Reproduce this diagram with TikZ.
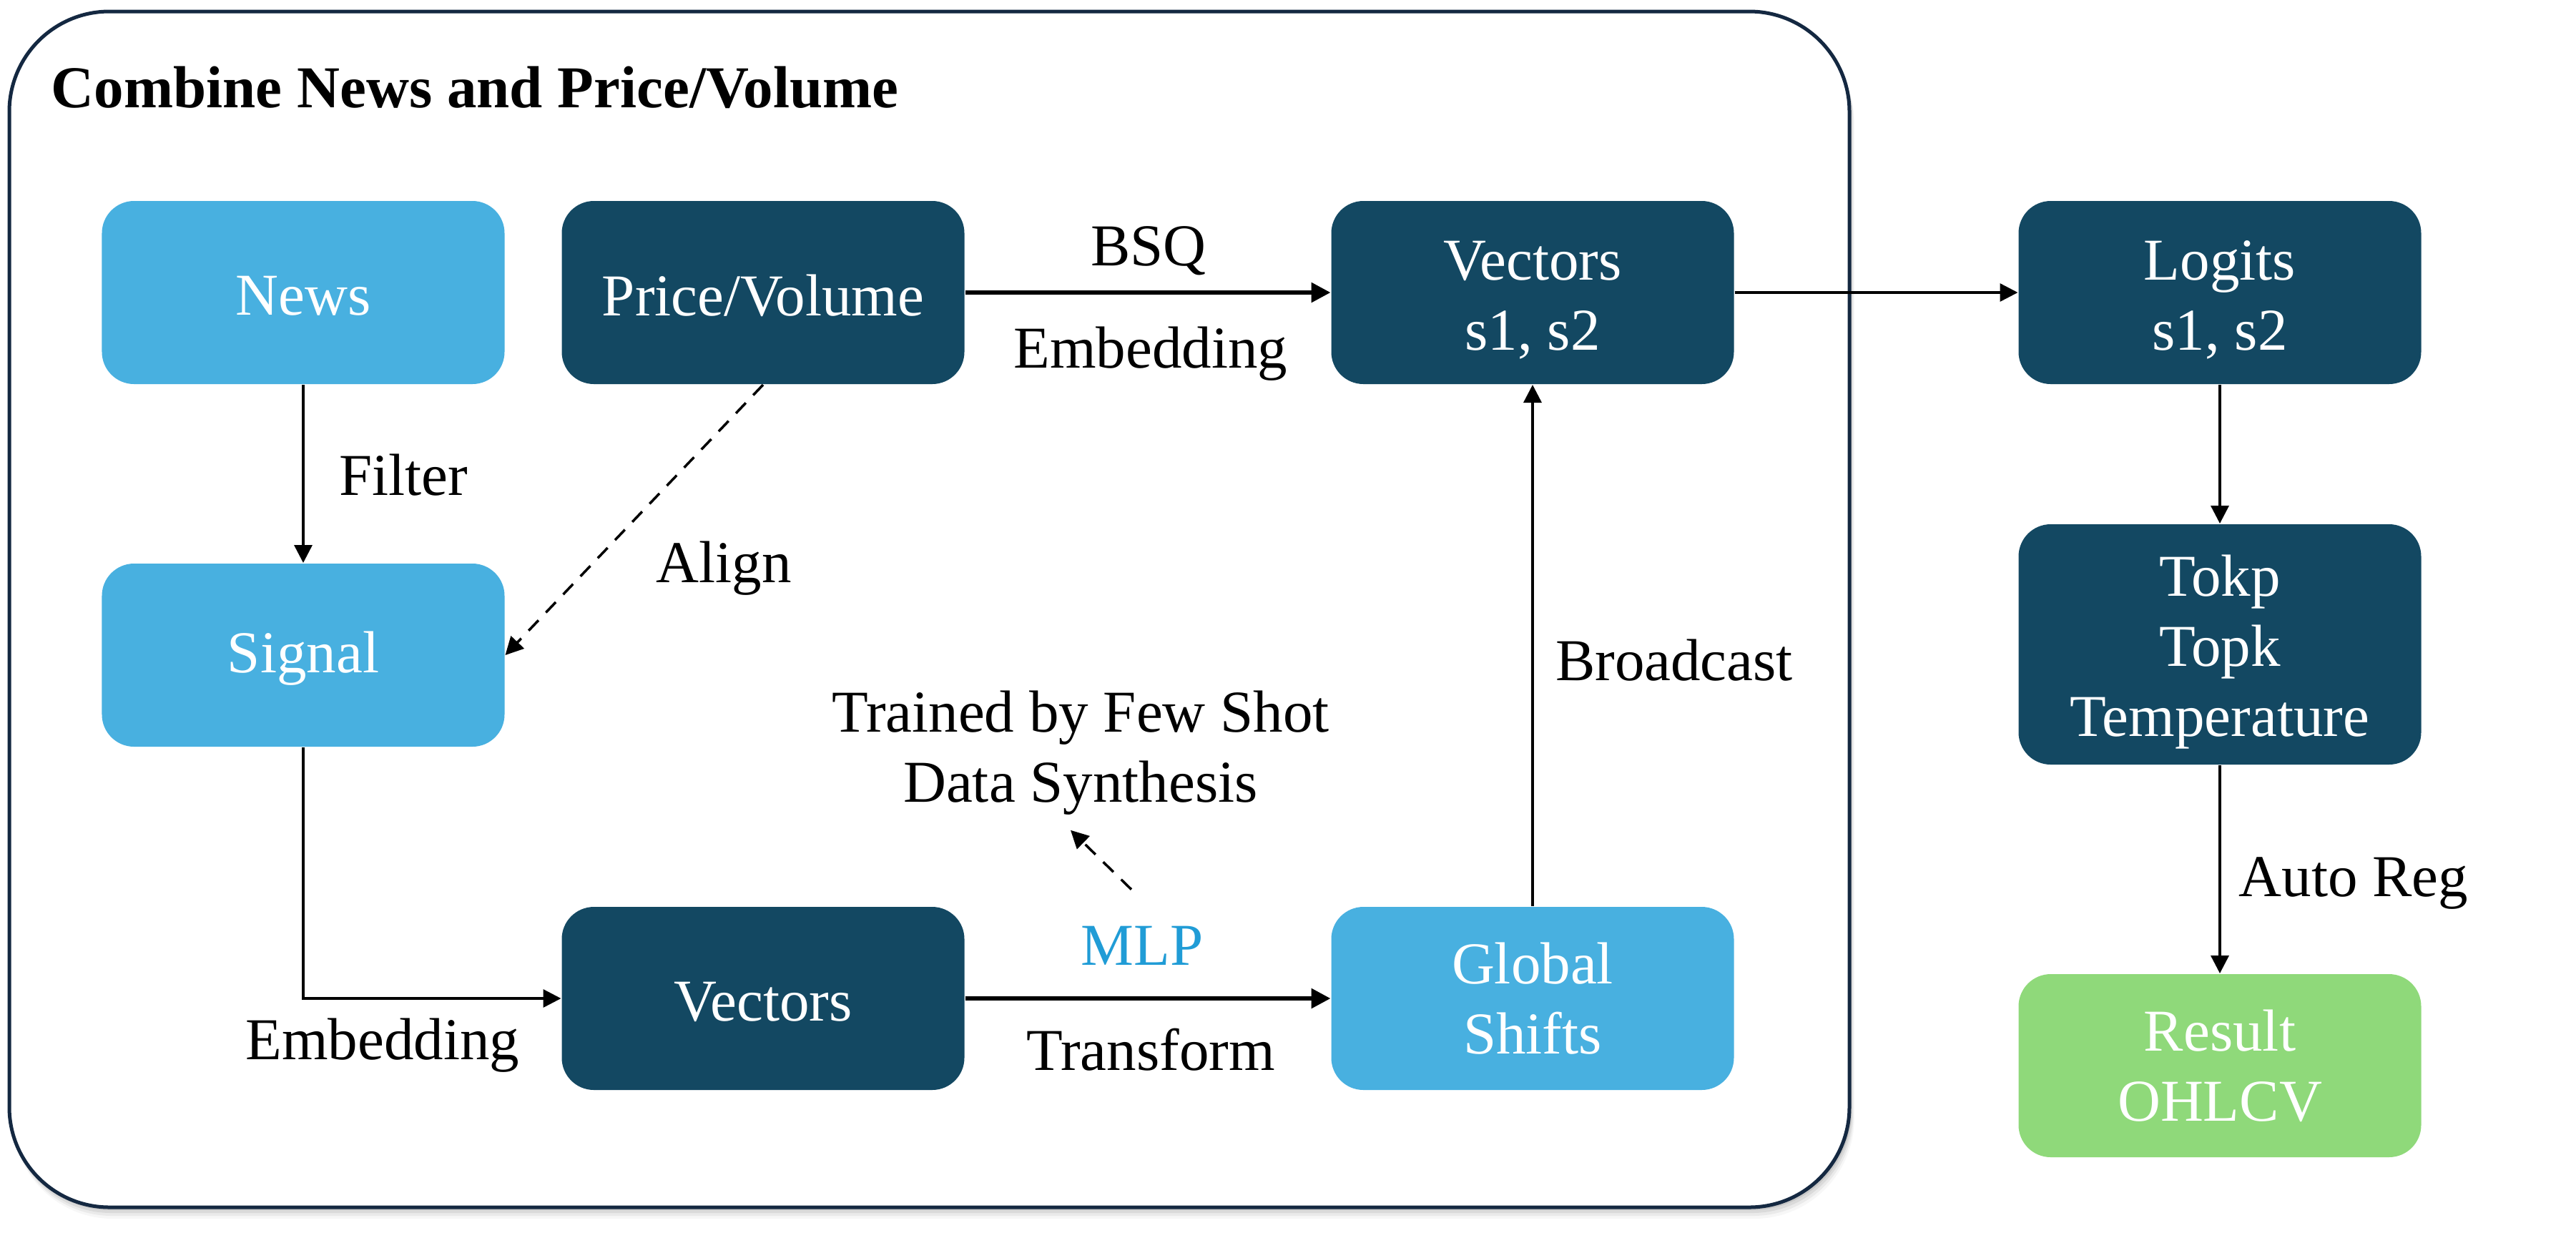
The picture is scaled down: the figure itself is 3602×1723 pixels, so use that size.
\documentclass[tikz,border=0pt]{standalone}
\usepackage{fontspec}
\setmainfont{Liberation Serif}
\usetikzlibrary{arrows.meta}
\definecolor{dk}{HTML}{134862}
\definecolor{lb}{HTML}{48B0E0}
\definecolor{gr}{HTML}{8FD97A}
\definecolor{mlpc}{HTML}{209CD6}
\definecolor{frm}{HTML}{142841}
\newcommand\boxnode[6]{%
  \node[box, fill=#2, #5] (#1) at (#3) {};
  \node[boxtext] (#1-t) at ([yshift=#6]#1.center) {#4};}
\begin{document}
\begin{tikzpicture}[x=0.2pt,y=-0.2pt,
  box/.style={rounded corners=9pt, minimum width=112.6pt, minimum height=51.2pt, inner sep=0pt},
  boxtext/.style={inner sep=0pt, text=white, align=center, font=\fontsize{16.6}{19.6}\selectfont},
  lbl/.style={font=\fontsize{16.6}{19.6}\selectfont, inner sep=0pt, align=center},
  conn/.style={line width=0.7pt, -{Triangle[length=5pt,width=5pt]}},
  thickconn/.style={line width=1.2pt, -{Triangle[length=5.4pt,width=5.4pt]}},
  dashconn/.style={line width=0.7pt, dash pattern=on 4pt off 3pt, -{Triangle[length=5pt,width=5pt]}}]
\useasboundingbox (0,0) rectangle (3602,1723);
% shadow of the frame
\foreach \d/\o in {4/0.09,8/0.07,12/0.05,16/0.03}{
  \fill[black, opacity=\o, rounded corners=28pt] (13+\d*0.3,16+\d) rectangle (2588+\d*0.3,1688+\d);
}
\draw[frm, line width=1pt, fill=white, rounded corners=28pt] (13,16) rectangle (2586,1688);
\node[font=\fontsize{16.6}{19.6}\selectfont\bfseries, anchor=base west, inner sep=0pt] (title) at (71,150) {Combine News and Price/Volume};

\boxnode{news}{lb}{424,409}{News}{}{-0.9pt}
\boxnode{pv}{dk}{1067,409}{Price/Volume}{}{-0.9pt}
\boxnode{vs}{dk}{2143,409}{Vectors\\s1, s2}{}{-2.2pt}
\boxnode{logits}{dk}{3104,409}{Logits\\s1, s2}{}{-2pt}
\boxnode{signal}{lb}{424,916}{Signal}{}{-0.9pt}
\boxnode{vec}{dk}{1067,1396}{Vectors}{}{-0.9pt}
\boxnode{gs}{lb}{2143,1396}{Global\\Shifts}{}{0pt}
\boxnode{tok}{dk}{3104,901}{Tokp\\Topk\\Temperature}{minimum height=67.2pt}{-2.2pt}
\boxnode{res}{gr}{3104,1490}{Result\\OHLCV}{}{0pt}

\node[lbl, anchor=base] (bsq) at (1606,371) {BSQ};
\node[lbl, anchor=base] (emb1) at (1609,514) {Embedding};
\node[lbl, anchor=base west] (filter) at (473,692) {Filter};
\node[lbl, anchor=base] (align) at (1012,814) {Align};
\node[lbl, anchor=base] (bcast) at (2341,951) {Broadcast};
\node[lbl] (trained) at (1511,1053) {Trained by Few Shot\\Data Synthesis};
\node[lbl, anchor=base, text=mlpc] (mlp) at (1597,1349) {MLP};
\node[lbl, anchor=base] (transf) at (1609,1496) {Transform};
\node[lbl, anchor=base] (emb2) at (535,1481) {Embedding};
\node[lbl, anchor=base] (autoreg) at (3291,1253) {Auto Reg};

\draw[thickconn] (pv.east) -- (vs.west);
\draw[conn] (vs.east) -- (logits.west);
\draw[conn] (news.south) -- (signal.north);
\draw[dashconn] (pv.south) -- (signal.east);
\draw[conn] (signal.south) |- (vec.west);
\draw[thickconn] (vec.east) -- (gs.west);
\draw[conn] (gs.north) -- (vs.south);
\draw[conn] (logits.south) -- (tok.north);
\draw[conn] (tok.south) -- (res.north);
\draw[dashconn] ([xshift=-3pt,yshift=10pt]mlp.north) -- ([xshift=-2.8pt,yshift=-4pt]trained.south);
\end{tikzpicture}
\end{document}
